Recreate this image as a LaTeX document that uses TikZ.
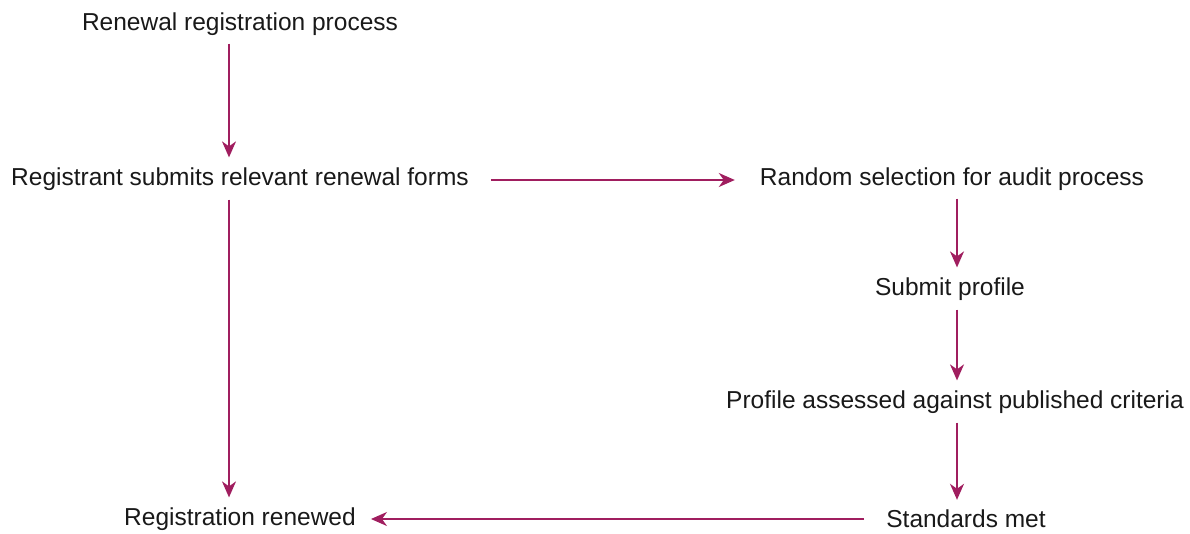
\documentclass[tikz,border=0pt]{standalone}
\usepackage{fontspec}
\setmainfont{Liberation Sans}
\usetikzlibrary{arrows.meta}
\definecolor{plum}{RGB}{160,30,95}
\tikzset{
    stage/.style={inner sep=0pt, font=\fontsize{24.5}{29}\selectfont, text=black!90},
    flow/.style={-{Stealth[length=16pt,width=14pt,inset=5pt]}, draw=plum, line width=1.7pt}
}
\begin{document}
\begin{tikzpicture}[x=1pt,y=-1pt]
    \useasboundingbox (0,0) rectangle (1190,533);
    \node[stage] (start) at (240,24) {Renewal registration process};
    \node[stage] (forms) at (240,179) {Registrant submits relevant renewal forms};
    \node[stage] (audit) at (952,179) {Random selection for audit process};
    \node[stage] (profile) at (950,289) {Submit profile};
    \node[stage] (assess) at (955,402) {Profile assessed against published criteria};
    \node[stage] (met) at (966,519) {Standards met};
    \node[stage] (renewed) at (240,519) {Registration renewed};
    % arrows
    \draw [flow] ([xshift=-11pt,yshift=-8pt]start.south) -- ([xshift=-11pt,yshift=10pt]forms.north);
    \draw [flow] ([xshift=-11pt,yshift=-9pt]forms.south) -- ([xshift=-11pt,yshift=10pt]renewed.north);
    \draw [flow] ([xshift=22pt,yshift=-1pt]forms.east) -- ([xshift=-25pt,yshift=-1pt]audit.west);
    \draw [flow] ([xshift=5pt,yshift=-8pt]audit.south) -- ([xshift=7pt,yshift=10pt]profile.north);
    \draw [flow] ([xshift=7pt,yshift=-9pt]profile.south) -- ([xshift=2pt,yshift=10pt]assess.north);
    \draw [flow] ([xshift=2pt,yshift=-9pt]assess.south) -- ([xshift=-9pt,yshift=10pt]met.north);
    \draw [flow] ([xshift=-22pt]met.west) -- ([xshift=15pt]renewed.east);
\end{tikzpicture}
\end{document}
